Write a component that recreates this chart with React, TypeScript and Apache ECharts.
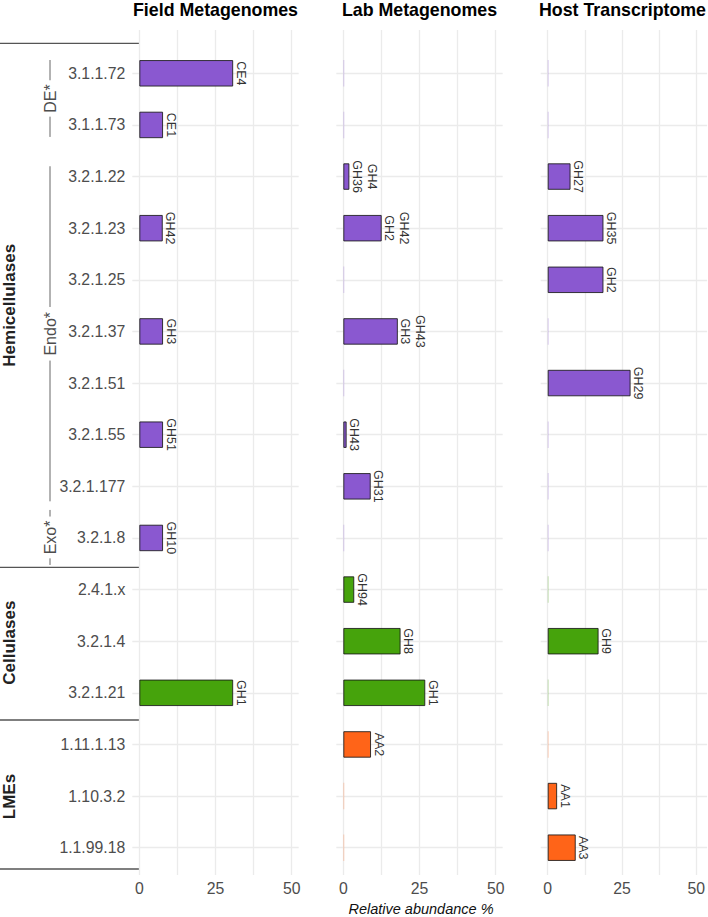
import React, { useEffect, useRef } from 'react';
import * as echarts from 'echarts';

// ---------- data ----------
const categories = [
  '3.1.1.72', '3.1.1.73', '3.2.1.22', '3.2.1.23', '3.2.1.25', '3.2.1.37', '3.2.1.51', '3.2.1.55',
  '3.2.1.177', '3.2.1.8', '2.4.1.x', '3.2.1.4', '3.2.1.21', '1.11.1.13', '1.10.3.2', '1.1.99.18',
];
const enzymeClass = ['H', 'H', 'H', 'H', 'H', 'H', 'H', 'H', 'H', 'H', 'C', 'C', 'C', 'L', 'L', 'L'];
const panelTitles = ['Field Metagenomes', 'Lab Metagenomes', 'Host Transcriptome'];

const fieldValues = [30.8, 7.8, null, 7.7, null, 7.8, null, 7.8, null, 7.8, null, null, 30.8, null, null, null];
const fieldLabels = ['CE4', 'CE1', '', 'GH42', '', 'GH3', '', 'GH51', '', 'GH10', '', '', 'GH1', '', '', ''];

const labValues = [0, 0, 2.0, 12.6, 0, 17.9, 0, 1.1, 9.0, 0, 3.6, 18.8, 26.9, 9.1, 0, 0];
const labLabels = ['', '', 'GH4\nGH36', 'GH42\nGH2', '', 'GH43\nGH3', '', 'GH43', 'GH31', '', 'GH94', 'GH8', 'GH1', 'AA2', '', ''];

const hostValues = [0, 0, 7.5, 18.3, 18.3, 0, 27.2, 0, 0, 0, 0, 16.7, 0, 0, 3.1, 9.2];
const hostLabels = ['', '', 'GH27', 'GH35', 'GH2', '', 'GH29', '', '', '', '', 'GH9', '', '', 'AA1', 'AA3'];

const xTicks = [0, 25, 50];
const groupNames = ['Hemicellulases', 'Cellulases', 'LMEs'];
const subGroupNames = ['DE*', 'Endo*', 'Exo*'];

// ---------- styling / layout ----------
const FONT = 'Liberation Sans, Arial, Helvetica, sans-serif';
const classColors: Record<string, string> = { H: '#8a58d0', C: '#46a30c', L: '#ff6418' };
const classFaint: Record<string, string> = {
  H: 'rgba(138,88,208,0.28)', C: 'rgba(70,163,12,0.28)', L: 'rgba(255,100,24,0.28)',
};
const ZERO_X = [139.3, 343.3, 547.7];
const PX_PER_UNIT = 3.048;
const PAD = 7;
const CAT_TOP = 73.3;
const CAT_BOTTOM = 847.7;
const STEP = (CAT_BOTTOM - CAT_TOP) / (categories.length - 1);
const catY = (i: number) => CAT_TOP + i * STEP;
const W = 708;
const H = 917;

function makeData(vals: (number | null)[]) {
  return vals.map((v, i) => {
    const cls = enzymeClass[i];
    if (v === null) return { value: '-' };
    if (v === 0) {
      return { value: 0, itemStyle: { color: classFaint[cls], borderWidth: 0 }, label: { show: false } };
    }
    return {
      value: v,
      itemStyle: { color: classColors[cls], borderColor: 'rgba(25,25,25,0.85)', borderWidth: 1 },
      label: { show: true },
    };
  });
}

export default function App() {
  const ref = useRef<HTMLDivElement>(null);
  useEffect(() => {
    if (!ref.current) return;
    const chart = echarts.init(ref.current, undefined, { renderer: 'svg' });
    const panelValues = [fieldValues, labValues, hostValues];
    const panelLabels = [fieldLabels, labLabels, hostLabels];
    const spanPx = 50 * PX_PER_UNIT;
    const padUnits = PAD / PX_PER_UNIT;

    const grids: any[] = [];
    const xAxes: any[] = [];
    const yAxes: any[] = [];
    const series: any[] = [];

    // bar grids 0..2
    for (let p = 0; p < 3; p++) {
      grids.push({
        left: ZERO_X[p] - PAD,
        width: spanPx + 2 * PAD,
        top: CAT_TOP,
        height: CAT_BOTTOM - CAT_TOP,
        containLabel: false,
      });
      xAxes.push({ type: 'value', gridIndex: p, min: -padUnits, max: 50 + padUnits, show: false });
      yAxes.push({
        type: 'category',
        gridIndex: p,
        data: categories,
        inverse: true,
        boundaryGap: false,
        axisLine: { show: false },
        axisTick: { show: false },
        axisLabel: {
          show: p === 0, margin: 7, fontSize: 15.8, color: '#4d4d4d', fontFamily: FONT, interval: 0,
        },
        splitLine: { show: true, interval: 0, lineStyle: { color: '#ebebeb', width: 1.3 } },
        z: 1,
      });
      const labels = panelLabels[p];
      series.push({
        type: 'bar',
        xAxisIndex: p,
        yAxisIndex: p,
        data: makeData(panelValues[p]),
        barWidth: 26.5,
        barMinHeight: p === 0 ? 0 : 1,
        clip: false,
        z: 3,
        label: {
          show: true,
          position: 'right',
          distance: 0,
          rotate: -90,
          align: 'center',
          verticalAlign: 'bottom',
          fontSize: 12.5,
          lineHeight: 15,
          color: '#333333',
          fontFamily: FONT,
          formatter: (prm: any) => labels[prm.dataIndex],
        },
      });
    }
    // background grids 3..5 (vertical gridlines + tick labels)
    for (let p = 0; p < 3; p++) {
      grids.push({ left: ZERO_X[p], width: spanPx, top: 30, height: 845, containLabel: false });
      xAxes.push({
        type: 'value',
        gridIndex: 3 + p,
        min: 0,
        max: 50,
        interval: 12.5,
        axisLine: { show: false },
        axisTick: { show: false },
        axisLabel: {
          margin: 5, fontSize: 15.8, color: '#4d4d4d', fontFamily: FONT,
          formatter: (v: number) => (xTicks.includes(v) ? String(v) : ''),
        },
        splitLine: { show: true, lineStyle: { color: '#ebebeb', width: 1.3 } },
        z: 0,
      });
      yAxes.push({ type: 'value', gridIndex: 3 + p, min: 0, max: 1, show: false });
    }

    const graphics: any[] = [];
    // panel titles
    panelTitles.forEach((t, p) => {
      const center = ZERO_X[p] + spanPx / 2;
      const isLast = p === 2;
      graphics.push({
        type: 'text',
        x: isLast ? 539 : center,
        y: 9.5,
        style: {
          text: t, fill: '#000', font: `bold 17.8px ${FONT}`,
          align: isLast ? 'left' : 'center', verticalAlign: 'middle',
        },
      });
    });
    // x axis title
    graphics.push({
      type: 'text', x: 421, y: 908.5,
      style: {
        text: 'Relative abundance %', fill: '#111', font: `italic 14.5px ${FONT}`,
        align: 'center', verticalAlign: 'middle',
      },
    });
    // group separators
    const seps = [43.3, 567.3, 720, 869];
    seps.forEach((y) => {
      graphics.push({
        type: 'line', shape: { x1: 0, y1: y, x2: 140, y2: y },
        style: { stroke: '#555', lineWidth: 1.3 },
      });
    });
    // group names (rotated)
    const groupCenters = [(seps[0] + seps[1]) / 2, (seps[1] + seps[2]) / 2 - 1, (seps[2] + seps[3]) / 2 + 2];
    groupNames.forEach((g, i) => {
      graphics.push({
        type: 'text', x: 9.5, y: groupCenters[i], rotation: Math.PI / 2,
        style: { text: g, fill: '#222', font: `bold 17px ${FONT}`, align: 'center', verticalAlign: 'middle' },
      });
    });
    // sub-group brackets
    const subRanges = [
      [catY(0) - 13.3, catY(1) + 12],
      [catY(2) - 10.3, catY(8) + 15],
      [catY(9) - 28, catY(9) + 27],
    ];
    const subHalf = [14.2 + 4, 21.8 + 5, 16.9 + 4];
    subGroupNames.forEach((s, i) => {
      const [a, b] = subRanges[i];
      const c = (a + b) / 2;
      graphics.push({
        type: 'text', x: 50, y: c, rotation: Math.PI / 2,
        style: { text: s, fill: '#4d4d4d', font: `16px ${FONT}`, align: 'center', verticalAlign: 'middle' },
      });
      graphics.push({
        type: 'line', shape: { x1: 50, y1: a, x2: 50, y2: c - subHalf[i] },
        style: { stroke: '#666', lineWidth: 1 },
      });
      graphics.push({
        type: 'line', shape: { x1: 50, y1: c + subHalf[i], x2: 50, y2: b },
        style: { stroke: '#666', lineWidth: 1 },
      });
    });

    chart.setOption({
      animation: false,
      backgroundColor: '#ffffff',
      grid: grids,
      xAxis: xAxes,
      yAxis: yAxes,
      series,
      graphic: graphics,
    });
    return () => chart.dispose();
  }, []);
  return <div ref={ref} style={{ position: 'fixed', left: 0, top: 0, width: W, height: H }} />;
}
